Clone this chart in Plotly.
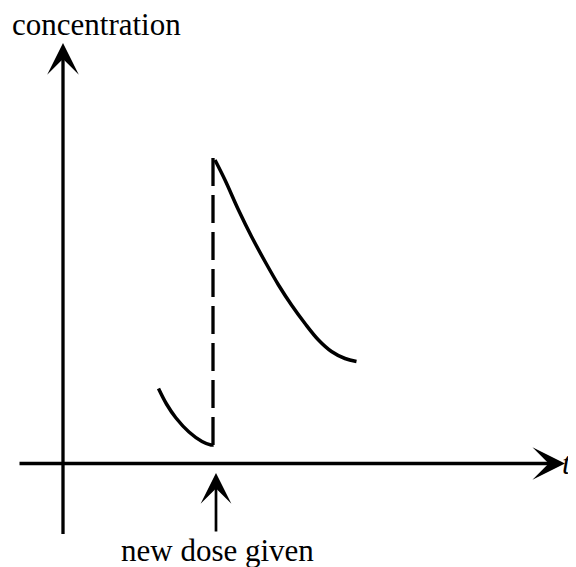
import plotly.graph_objects as go

# Curve readings (time t, concentration c)
before_t = [1.91, 2.07, 2.26, 2.52, 2.78, 2.96, 3.01]
before_c = [1.50, 1.19, 0.91, 0.63, 0.44, 0.37, 0.37]

after_t = [3.04, 3.24, 3.51, 3.77, 4.04, 4.31, 4.57, 4.84, 5.11, 5.37, 5.64, 5.87]
after_c = [6.07, 5.67, 5.07, 4.54, 4.04, 3.57, 3.17, 2.80, 2.47, 2.24, 2.10, 2.04]

dose_t = [3.0, 3.0]
dose_c = [0.37, 6.17]

axis_x_range = [-0.9, 10.04]
axis_y_range = [-1.44, 8.41]
dose_arrow_c = [-1.39, -0.19]

ylabel = "concentration"
xlabel = "t"
dose_label = "new dose given"

FONT = "Liberation Serif, Times New Roman, serif"

fig = go.Figure()

fig.add_trace(go.Scatter(x=before_t, y=before_c, mode="lines",
                         line=dict(color="black", width=3.5, shape="spline"),
                         hoverinfo="skip"))
fig.add_trace(go.Scatter(x=after_t, y=after_c, mode="lines",
                         line=dict(color="black", width=3.5, shape="spline"),
                         hoverinfo="skip"))
fig.add_trace(go.Scatter(x=dose_t, y=dose_c, mode="lines",
                         line=dict(color="black", width=3.3, dash="28px,9px"),
                         hoverinfo="skip"))

# axes drawn as arrows
fig.add_annotation(x=0, y=axis_y_range[1], ax=0, ay=axis_y_range[0],
                   xref="x", yref="y", axref="x", ayref="y", text="",
                   showarrow=True, arrowhead=3, arrowwidth=3.3, arrowsize=1.6,
                   arrowcolor="black", standoff=0)
fig.add_annotation(x=axis_x_range[1], y=0, ax=axis_x_range[0], ay=0,
                   xref="x", yref="y", axref="x", ayref="y", text="",
                   showarrow=True, arrowhead=3, arrowwidth=3.5, arrowsize=1.55,
                   arrowcolor="black", standoff=0)
fig.add_annotation(x=3.06, y=dose_arrow_c[1], ax=3.06, ay=dose_arrow_c[0],
                   xref="x", yref="y", axref="x", ayref="y", text="",
                   showarrow=True, arrowhead=3, arrowwidth=2.7, arrowsize=1.9,
                   arrowcolor="black", standoff=0)

fig.add_annotation(x=0.66, y=8.79, xref="x", yref="y", text=ylabel,
                   showarrow=False, xanchor="center", yanchor="middle",
                   font=dict(family=FONT, size=31, color="black"))
fig.add_annotation(x=1.0, y=0.0, xref="paper", yref="y", text="<i>" + xlabel + "</i>",
                   showarrow=False, xanchor="right", yanchor="middle", xshift=-2,
                   font=dict(family=FONT, size=31, color="black"))
fig.add_annotation(x=3.08, y=-1.73, xref="x", yref="y", text=dose_label,
                   showarrow=False, xanchor="center", yanchor="middle",
                   font=dict(family=FONT, size=31, color="black"))

# the page adds an 8px body margin, so the figure is 8px smaller and ranges compensate
fig.update_layout(
    width=568, height=559,
    margin=dict(l=0, r=0, t=0, b=0),
    paper_bgcolor="white", plot_bgcolor="white",
    showlegend=False,
    xaxis=dict(range=[-1.10, 10.26], visible=False, fixedrange=True),
    yaxis=dict(range=[-2.07, 9.11], visible=False, fixedrange=True),
)

fig.write_html("out.html")
